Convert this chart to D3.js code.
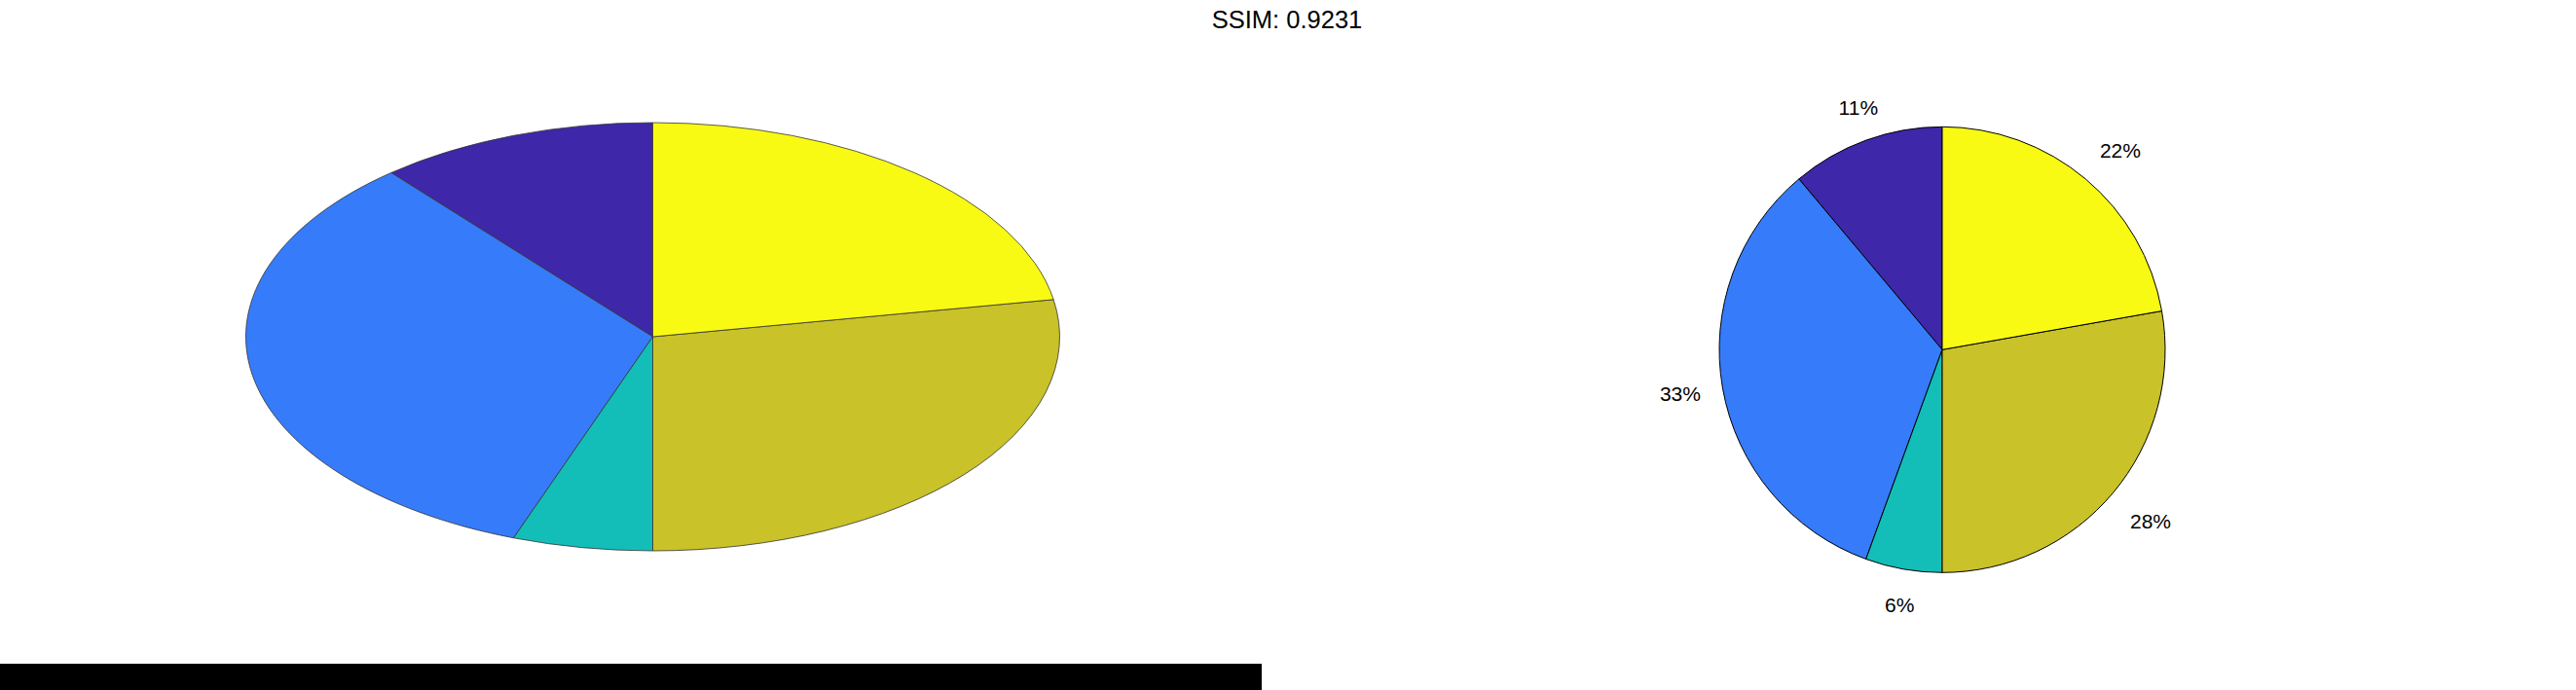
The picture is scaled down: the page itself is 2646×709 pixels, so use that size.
<!DOCTYPE html>
<html>
<head>
<meta charset="utf-8">
<script src="https://cdn.jsdelivr.net/npm/d3@7"></script>
<style>
  html, body { margin: 0; padding: 0; background: #fff; }
  svg { display: block; }
  text { font-family: "Liberation Sans", Arial, Helvetica, sans-serif; fill: #000; }
</style>
</head>
<body>
<script>
// ---- data ----
const categories = ["A", "B", "C", "D", "E"];
const values = [1, 3, 0.5, 2.5, 2];
const colors = ["#3E27A8", "#367BF9", "#13BEB8", "#C9C229", "#F9FA14"];
const titleText = "SSIM: 0.9231";

const W = 2646, H = 709;
const svg = d3.select("body").append("svg").attr("width", W).attr("height", H);

const total = d3.sum(values);
const pie = d3.pie().sort(null).value(d => d).startAngle(0).endAngle(-2 * Math.PI);
const slices = pie(values);
const color = d3.scaleOrdinal().domain(d3.range(values.length)).range(colors);

// ---- left: stretched pie (no labels) ----
const L = { cx: 670.5, cy: 346, rx: 418, ry: 220 };
const unitArc = d3.arc().innerRadius(0).outerRadius(100);
const gl = svg.append("g")
  .attr("transform", `translate(${L.cx},${L.cy}) scale(${L.rx / 100},${L.ry / 100})`);
gl.selectAll("path").data(slices).join("path")
  .attr("d", unitArc)
  .attr("fill", (d, i) => color(i))
  .attr("stroke", "#333")
  .attr("stroke-width", 0.8)
  .attr("vector-effect", "non-scaling-stroke")
  .attr("stroke-linejoin", "round");

// ---- right: round pie with labels ----
const R = { cx: 1995, cy: 359.3, r: 229 };
const arc = d3.arc().innerRadius(0).outerRadius(R.r);
const gr = svg.append("g").attr("transform", `translate(${R.cx},${R.cy})`);
gr.selectAll("path").data(slices).join("path")
  .attr("d", arc)
  .attr("fill", (d, i) => color(i))
  .attr("stroke", "#000")
  .attr("stroke-width", 1)
  .attr("stroke-linejoin", "round");

const fs = 21;
gr.selectAll("text").data(slices).join("text")
  .each(function (d) {
    const m = (d.startAngle + d.endAngle) / 2;
    const sx = Math.sin(m), sy = Math.cos(m); // sy: upward component
    const x = 1.1 * R.r * sx, y = -1.1 * R.r * sy;
    const anchor = Math.abs(sx) < 0.5 ? "middle" : (sx > 0 ? "start" : "end");
    let dy;
    if (Math.abs(sy) < 0.5) dy = 0.44 * fs;
    else if (sy > 0) dy = -0.2 * fs;
    else dy = 1.05 * fs;
    d3.select(this)
      .attr("x", x).attr("y", y + dy)
      .attr("text-anchor", anchor)
      .attr("font-size", fs)
      .text(Math.round(d.data / total * 100) + "%");
  });

// ---- title ----
svg.append("text")
  .attr("x", 1322).attr("y", 29.3)
  .attr("text-anchor", "middle")
  .attr("font-size", 25.5)
  .text(titleText);

// ---- black bar at bottom-left ----
svg.append("rect")
  .attr("x", 0).attr("y", 682).attr("width", 1296).attr("height", H - 682)
  .attr("fill", "#000");
</script>
</body>
</html>
